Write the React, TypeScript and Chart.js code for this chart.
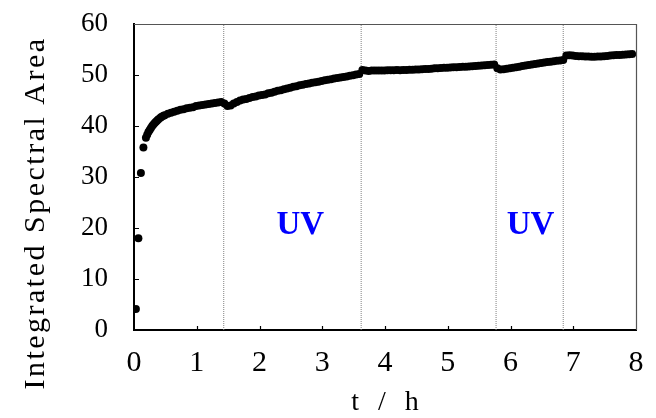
import React, { useEffect, useRef } from "react";
import { Chart, registerables } from "chart.js";

Chart.register(...registerables);

// Time (h) of each measurement
const timeH: number[] = [
  0.03, 0.07, 0.11, 0.15, 0.19, 0.21, 0.23, 0.25, 0.27, 0.29, 0.31, 0.33, 0.35, 0.37, 0.39,
  0.42, 0.44, 0.47, 0.49, 0.54, 0.59, 0.64, 0.69,
  0.74, 0.79, 0.84, 0.89, 0.94, 0.99, 1.04, 1.09, 1.14, 1.19, 1.24, 1.29, 1.34, 1.39, 1.44,
  1.49, 1.54, 1.59, 1.64, 1.69, 1.74, 1.79, 1.84, 1.89, 1.94, 1.99, 2.04, 2.09, 2.14, 2.19,
  2.24, 2.29, 2.34, 2.39, 2.44, 2.49, 2.54, 2.59, 2.64, 2.69, 2.74, 2.79, 2.84, 2.89, 2.94,
  2.99, 3.04, 3.09, 3.14, 3.19, 3.24, 3.29, 3.34, 3.39, 3.44, 3.49, 3.54, 3.59, 3.64, 3.69,
  3.74, 3.79, 3.84, 3.89, 3.94, 3.99, 4.04, 4.09, 4.14, 4.19, 4.24, 4.29, 4.34, 4.39, 4.44,
  4.49, 4.54, 4.59, 4.64, 4.69, 4.74, 4.79, 4.84, 4.89, 4.94, 4.99, 5.04, 5.09, 5.14, 5.19,
  5.24, 5.29, 5.34, 5.39, 5.44, 5.49, 5.54, 5.59, 5.64, 5.69, 5.74, 5.79, 5.84, 5.89, 5.94,
  5.99, 6.04, 6.09, 6.14, 6.19, 6.24, 6.29, 6.34, 6.39, 6.44, 6.49, 6.54, 6.59, 6.64, 6.69,
  6.74, 6.79, 6.84, 6.89, 6.94, 6.99, 7.04, 7.09, 7.14, 7.19, 7.24, 7.29, 7.34, 7.39, 7.44,
  7.49, 7.54, 7.59, 7.64, 7.69, 7.74, 7.79, 7.84, 7.89, 7.94,
];

// Integrated spectral area at each time
const area: number[] = [
  4.1, 18.0, 30.8, 35.8, 37.7, 38.3, 38.8, 39.2, 39.6, 40.0, 40.3, 40.6, 40.85, 41.1, 41.3,
  41.6, 41.8, 42.0, 42.1, 42.4, 42.6, 42.8, 43.0,
  43.2, 43.3, 43.5, 43.6, 43.7, 43.9, 44.0, 44.1, 44.2, 44.3, 44.4, 44.5, 44.6, 44.7, 44.4,
  43.9, 44.0, 44.4, 44.7, 45.0, 45.2, 45.3, 45.5, 45.7, 45.8, 46.0, 46.1, 46.2, 46.4, 46.5,
  46.7, 46.9, 47.0, 47.2, 47.35, 47.5, 47.7, 47.8, 48.0, 48.1, 48.25, 48.35, 48.5, 48.6, 48.7,
  48.8, 48.95, 49.05, 49.15, 49.3, 49.4, 49.5, 49.6, 49.7, 49.85, 49.95, 50.1, 50.2, 51.0, 50.9,
  50.8, 50.9, 50.9, 50.9, 50.9, 50.9, 50.95, 50.95, 50.95, 51.0, 50.95, 51.0, 51.0, 51.05, 51.05,
  51.1, 51.1, 51.15, 51.2, 51.2, 51.25, 51.3, 51.3, 51.35, 51.4, 51.4, 51.45, 51.5, 51.5, 51.55,
  51.6, 51.6, 51.65, 51.7, 51.75, 51.8, 51.85, 51.9, 51.95, 52.0, 52.05, 51.3, 51.1, 51.15, 51.25,
  51.3, 51.4, 51.5, 51.6, 51.75, 51.85, 51.95, 52.05, 52.15, 52.25, 52.35, 52.45, 52.55, 52.6, 52.7,
  52.8, 52.85, 52.95, 53.8, 53.85, 53.8, 53.75, 53.7, 53.7, 53.65, 53.65, 53.6, 53.6, 53.65, 53.65,
  53.7, 53.75, 53.8, 53.85, 53.9, 53.9, 53.95, 54.0, 54.05, 54.1,
];

// Times (h) where UV was switched on/off
const switchTimes: number[] = [1.43, 3.62, 5.77, 6.84];

// UV annotation labels (x in h, y in area units)
const uvLabels: { text: string; x: number; y: number }[] = [
  { text: "UV", x: 2.65, y: 20.5 },
  { text: "UV", x: 6.32, y: 20.5 },
];

const xTickValues: number[] = [1, 2, 3, 4, 5, 6, 7];
const yTickValues: number[] = [10, 20, 30, 40, 50];

const yTitle = "Integrated Spectral Area";
const xTitle = "t / h";

const decorPlugin = {
  id: "decor",
  afterDraw(chart: any) {
    const ctx = chart.ctx as CanvasRenderingContext2D;
    const { left, right, top, bottom } = chart.chartArea;
    const xs = chart.scales.x;
    const ys = chart.scales.y;
    ctx.save();
    // top & right frame
    ctx.strokeStyle = "#555";
    ctx.lineWidth = 1.2;
    ctx.beginPath();
    ctx.moveTo(left, top + 0.5);
    ctx.lineTo(right + 0.5, top + 0.5);
    ctx.lineTo(right + 0.5, bottom);
    ctx.stroke();
    // inner tick marks
    ctx.strokeStyle = "#000";
    ctx.lineWidth = 1.2;
    ctx.beginPath();
    for (const v of xTickValues) {
      const px = Math.round(xs.getPixelForValue(v)) + 0.5;
      ctx.moveTo(px, bottom);
      ctx.lineTo(px, bottom - 4);
    }
    for (const v of yTickValues) {
      const py = Math.round(ys.getPixelForValue(v)) + 0.5;
      ctx.moveTo(left, py);
      ctx.lineTo(left + 5, py);
    }
    ctx.stroke();
    // UV labels
    ctx.fillStyle = "#0000ff";
    ctx.font = "bold 33px 'Liberation Serif'";
    ctx.textAlign = "center";
    ctx.textBaseline = "middle";
    for (const l of uvLabels) {
      ctx.fillText(l.text, xs.getPixelForValue(l.x), ys.getPixelForValue(l.y));
    }
    // axis titles
    ctx.fillStyle = "#000";
    (ctx as any).letterSpacing = "2.5px";
    ctx.font = "30px 'Liberation Serif'";
    ctx.textAlign = "center";
    ctx.textBaseline = "alphabetic";
    ctx.save();
    ctx.translate(44, 213);
    ctx.rotate(-Math.PI / 2);
    ctx.fillText(yTitle, 0, 0);
    ctx.restore();
    (ctx as any).letterSpacing = "6px";
    ctx.font = "28px 'Liberation Serif'";
    ctx.fillText(xTitle, (left + right) / 2 + 3, 410);
    ctx.restore();
  },
};

export default function App() {
  const canvasRef = useRef<HTMLCanvasElement | null>(null);

  useEffect(() => {
    document.body.style.margin = "0";
    const canvas = canvasRef.current;
    if (!canvas) return;

    const points = timeH.map((t, i) => ({ x: t, y: area[i] }));
    const lineSets = switchTimes.map((t) => ({
      type: "line" as const,
      data: [
        { x: t, y: 0 },
        { x: t, y: 60 },
      ],
      borderColor: "#808080",
      borderWidth: 1,
      borderDash: [1, 1],
      pointRadius: 0,
      fill: false,
    }));

    const chart = new Chart(canvas, {
      type: "scatter",
      data: {
        datasets: [
          {
            data: points,
            backgroundColor: "#000",
            borderColor: "#000",
            borderWidth: 0,
            pointRadius: 4,
            pointHoverRadius: 4,
          },
          ...lineSets,
        ] as any,
      },
      options: {
        animation: false,
        responsive: false,
        events: [],
        layout: { padding: { left: 55, right: 20, top: 24, bottom: 22 } },
        plugins: { legend: { display: false }, tooltip: { enabled: false } },
        scales: {
          x: {
            type: "linear",
            min: 0,
            max: 8,
            afterFit: (s: any) => {
              s.paddingLeft = 0;
              s.paddingRight = 0;
            },
            ticks: {
              stepSize: 1,
              padding: 15,
              color: "#000",
              font: { family: "'Liberation Serif'", size: 30 },
            },
            grid: { display: true, drawOnChartArea: false, drawTicks: false },
            border: { display: true, color: "#000", width: 2 },
          },
          y: {
            type: "linear",
            min: 0,
            max: 60,
            afterFit: (s: any) => {
              s.paddingTop = 0;
              s.paddingBottom = 0;
            },
            ticks: {
              stepSize: 10,
              padding: 26,
              color: "#000",
              font: { family: "'Liberation Serif'", size: 27 },
            },
            grid: { display: true, drawOnChartArea: false, drawTicks: false },
            border: { display: true, color: "#000", width: 2 },
          },
        },
      },
      plugins: [decorPlugin],
    } as any);

    return () => chart.destroy();
  }, []);

  return (
    <div style={{ width: 656, height: 418 }}>
      <canvas ref={canvasRef} width={656} height={418} />
    </div>
  );
}
